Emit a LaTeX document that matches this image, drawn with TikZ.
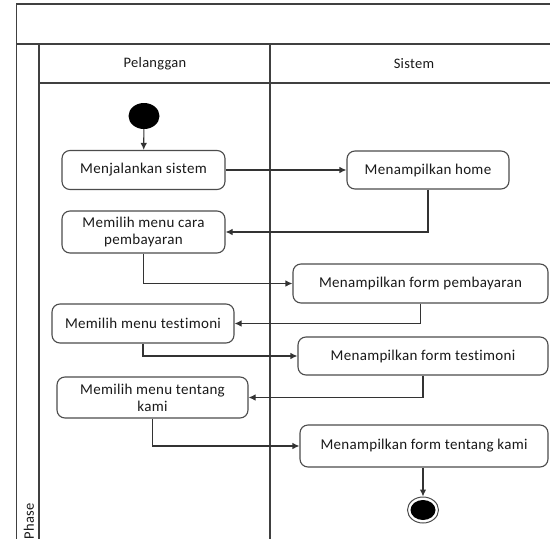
\documentclass[tikz,border=0pt]{standalone}
\usepackage{fontspec}
\setmainfont[Ligatures=NoCommon,LetterSpace=2]{Carlito}
\usetikzlibrary{arrows.meta,shapes.geometric}
\begin{document}
\begin{tikzpicture}[x=1pt,y=-1pt,
  frameline/.style={draw=black!75,line width=1.3pt},
  activity/.style={draw=black!70,line width=1.1pt,rounded corners=8pt,fill=white,
    align=center,inner sep=2pt,font=\fontsize{15}{17}\selectfont,text=black!90},
  flow/.style={draw=black!80,line width=1.1pt,-{Latex[length=7pt,width=6.5pt]}},
  lanehead/.style={font=\fontsize{14.5}{16}\selectfont,text=black!90}]
  \useasboundingbox (0,0) rectangle (550,539);

  % swimlane frame
  \draw[frameline] (16.5,560) -- (16.5,4) -- (560,4);
  \draw[frameline] (16.5,44) -- (560,44);
  \draw[frameline] (39,44) -- (39,560);
  \draw[frameline] (39,83) -- (560,83);
  \draw[frameline] (270,44) -- (270,560);

  \node[lanehead] (hp) at (155,63.5) {Pelanggan};
  \node[lanehead] (hs) at (414,63.5) {Sistem};
  \node[lanehead,rotate=90] (phase) at (29,521) {Phase};

  % start and end
  \node[ellipse,fill=black,minimum width=31pt,minimum height=26pt,inner sep=0pt] (start) at (144,116) {};
  \node[ellipse,draw=black!70,line width=1pt,fill=white,minimum width=31pt,minimum height=26pt,inner sep=0pt] (stop) at (423,510) {};
  \node[ellipse,fill=black,minimum width=25pt,minimum height=20pt,inner sep=0pt] (stopdot) at (423,510) {};

  % activities
  \node[activity,minimum width=163pt,minimum height=39pt] (n1) at (143.5,170) {Menjalankan sistem};
  \node[activity,minimum width=162pt,minimum height=38pt] (n2) at (428,170) {Menampilkan home};
  \node[activity,minimum width=163pt,minimum height=42pt] (n3) at (143.5,232) {Memilih menu cara\\pembayaran};
  \node[activity,minimum width=255pt,minimum height=39pt] (n4) at (420.5,283.5) {Menampilkan form pembayaran};
  \node[activity,minimum width=182pt,minimum height=39pt] (n5) at (143,323.5) {Memilih menu testimoni};
  \node[activity,minimum width=250pt,minimum height=38pt] (n6) at (423,356) {Menampilkan form testimoni};
  \node[activity,minimum width=191pt,minimum height=41pt] (n7) at (152.5,397.5) {Memilih menu tentang\\kami};
  \node[activity,minimum width=248pt,minimum height=42pt] (n8) at (424,446) {Menampilkan form tentang kami};

  % control flow
  \draw[flow] (start) -- (n1);
  \draw[flow] (n1) -- (n2);
  \draw[flow] (n2.south) |- (n3.east);
  \draw[flow] (n3.south) |- (n4.west);
  \draw[flow] (n4.south) |- (n5.east);
  \draw[flow] (n5.south) |- (n6.west);
  \draw[flow] (n6.south) |- (n7.east);
  \draw[flow] (n7.south) |- (n8.west);
  \draw[flow] (n8.south -| stop) -- (stop);
\end{tikzpicture}
\end{document}
